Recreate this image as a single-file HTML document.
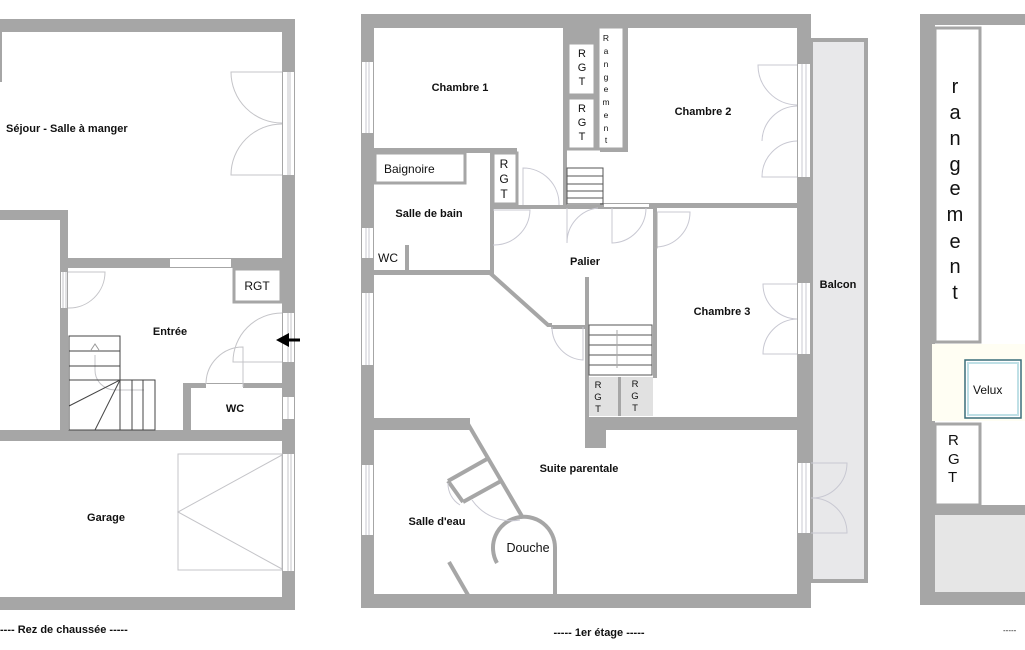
<!DOCTYPE html>
<html><head><meta charset="utf-8"><style>
html,body{margin:0;padding:0;background:#fff;width:1025px;height:650px;overflow:hidden}
svg{display:block}
text{font-family:"Liberation Sans",Arial,sans-serif;fill:#111}
.b{font-weight:bold;font-size:11px}
</style></head><body>
<svg width="1025" height="650" viewBox="0 0 1025 650" xmlns="http://www.w3.org/2000/svg">
<g fill="#a6a6a6">
<!-- LEFT PLAN -->
<rect x="0" y="19" width="295" height="13"/>
<rect x="282" y="19" width="13" height="591"/>
<rect x="0" y="210" width="68" height="10"/>
<rect x="60" y="210" width="8" height="231"/>
<rect x="60" y="258" width="235" height="10"/>
<rect x="183" y="383" width="8" height="50"/>
<rect x="183" y="383" width="112" height="5"/>
<rect x="0" y="430" width="295" height="11"/>
<rect x="0" y="597" width="295" height="13"/>
<rect x="0" y="32" width="2" height="50"/>
</g>
<g fill="#fff">
<rect x="170" y="259" width="61" height="8"/>
<rect x="283" y="72" width="11" height="103"/>
<rect x="283" y="313" width="11" height="49"/>
<rect x="283" y="397" width="11" height="22"/>
<rect x="283" y="454" width="11" height="117"/>
<rect x="61" y="272" width="6" height="36"/>
<rect x="206" y="384" width="37" height="4"/>
</g>
<g fill="none" stroke="#c4c4c8" stroke-width="1">
<line x1="288" y1="72" x2="288" y2="175"/><line x1="290" y1="72" x2="290" y2="175"/>
<path d="M282 72 H231 A51 51 0 0 0 282 123"/><path d="M282 175 H231 A51 51 0 0 1 282 124"/>
<line x1="288" y1="313" x2="288" y2="362"/><line x1="291" y1="313" x2="291" y2="362"/>
<path d="M282 313 A49 49 0 0 0 233 362 H282"/>
<path d="M243 387 V347 A37 37 0 0 0 206 384"/>
<line x1="288" y1="397" x2="288" y2="419"/>
<line x1="288" y1="454" x2="288" y2="571"/><line x1="291" y1="454" x2="291" y2="571"/>
<rect x="178" y="454" width="104" height="116"/>
<path d="M282 455 L178 512 L282 569"/>
<line x1="63" y1="272" x2="63" y2="308"/><line x1="66" y1="272" x2="66" y2="308"/>
<path d="M68 272 H105 A36 36 0 0 1 68 308"/>
<path d="M95 355 V370 A20 20 0 0 0 115 390 H144"/>
</g>
<path d="M300 340 H287" stroke="#000" stroke-width="3"/><path d="M276 340 L289 333 L289 347 Z" fill="#000"/>
<g fill="none" stroke="#444" stroke-width="1">
<rect x="69" y="336" width="51" height="94"/>
<line x1="69" y1="351" x2="120" y2="351"/><line x1="69" y1="366" x2="120" y2="366"/><line x1="69" y1="380" x2="155" y2="380"/>
<rect x="120" y="380" width="35" height="50"/>
<line x1="132" y1="380" x2="132" y2="430"/><line x1="143" y1="380" x2="143" y2="430"/>
<line x1="120" y1="380" x2="69" y2="406"/><line x1="120" y1="380" x2="95" y2="430"/>
</g>
<path d="M91 350 L95 344 L99 350" fill="none" stroke="#999"/>
<rect x="234" y="269" width="47" height="33" fill="#fff" stroke="#a6a6a6" stroke-width="3"/>
<text x="257" y="290" font-size="12" text-anchor="middle">RGT</text>
<text class="b" x="6" y="132">Séjour - Salle à manger</text>
<text class="b" x="170" y="335" text-anchor="middle">Entrée</text>
<text class="b" x="235" y="412" text-anchor="middle">WC</text>
<text class="b" x="106" y="521" text-anchor="middle">Garage</text>
<text class="b" x="0" y="633" font-size="9.5">----  Rez de chaussée  -----</text>

<!-- MIDDLE PLAN -->
<rect x="811" y="40" width="55" height="541" fill="#e8e8ea" stroke="#a6a6a6" stroke-width="4"/>
<g fill="#a6a6a6">
<rect x="361" y="14" width="450" height="14"/>
<rect x="361" y="14" width="13" height="594"/>
<rect x="797" y="14" width="14" height="594"/>
<rect x="361" y="594" width="450" height="14"/>
<rect x="374" y="148" width="143" height="5"/>
<rect x="490" y="148" width="4" height="127"/>
<rect x="374" y="270" width="120" height="5"/>
<rect x="405" y="245" width="4" height="28"/>
<rect x="490" y="205" width="167" height="4"/>
<rect x="563" y="28" width="4" height="180"/>
<rect x="563" y="28" width="37" height="15"/>
<rect x="624" y="28" width="4" height="124"/>
<rect x="600" y="149" width="28" height="3"/>
<rect x="600" y="203" width="197" height="5"/>
<rect x="653" y="208" width="4" height="170"/>
<rect x="585" y="277" width="4" height="170"/>
<rect x="585" y="417" width="21" height="31"/>
<rect x="585" y="417" width="212" height="13"/>
<rect x="374" y="418" width="96" height="12"/>
<rect x="551" y="325" width="35" height="4"/>
</g>
<g fill="#fff">
<rect x="362" y="62" width="11" height="71"/>
<rect x="362" y="228" width="11" height="30"/>
<rect x="362" y="293" width="11" height="72"/>
<rect x="362" y="465" width="11" height="70"/>
<rect x="798" y="64" width="12" height="113"/>
<rect x="798" y="283" width="12" height="71"/>
<rect x="798" y="463" width="12" height="70"/>
<rect x="604" y="204" width="45" height="3"/>
</g>
<g fill="none" stroke="#c8c8d2" stroke-width="1">
<line x1="366" y1="62" x2="366" y2="133"/><line x1="369" y1="62" x2="369" y2="133"/>
<line x1="366" y1="228" x2="366" y2="258"/><line x1="369" y1="228" x2="369" y2="258"/>
<line x1="366" y1="293" x2="366" y2="365"/><line x1="369" y1="293" x2="369" y2="365"/>
<line x1="366" y1="465" x2="366" y2="535"/><line x1="369" y1="465" x2="369" y2="535"/>
<line x1="802" y1="64" x2="802" y2="177"/><line x1="806" y1="64" x2="806" y2="177"/>
<line x1="802" y1="283" x2="802" y2="354"/><line x1="806" y1="283" x2="806" y2="354"/>
<line x1="802" y1="463" x2="802" y2="533"/><line x1="806" y1="463" x2="806" y2="533"/>
<path d="M797 65 H758 A40 40 0 0 0 797 105"/><path d="M797 106 A36 36 0 0 0 762 141 A36 36 0 0 1 797 106 M797 141 A36 36 0 0 0 762 177 H797"/>
<path d="M797 284 H763 A35 35 0 0 0 797 319"/><path d="M797 319 A35 35 0 0 0 763 354 H797"/>
<path d="M811 463 H847 A35 35 0 0 1 811 498"/><path d="M811 498 A35 35 0 0 1 847 533 H811"/>
<path d="M523 205 V168 A36 36 0 0 1 559 205"/>
<path d="M493 210 H530 A36 36 0 0 1 493 245"/>
<path d="M567 208 V243 A35 35 0 0 1 598 208"/>
<path d="M612 208 V243 A35 35 0 0 0 646 208"/>
<path d="M657 212 H690 A35 35 0 0 1 657 247"/>
<path d="M583 327 V360 A33 33 0 0 1 552 327"/>
</g>
<rect x="654" y="213" width="3" height="35" fill="none" stroke="#aaa" stroke-width="1"/>
<!-- RGT column -->
<rect x="568" y="43" width="27" height="52" fill="#fff" stroke="#a6a6a6" stroke-width="3"/>
<rect x="568" y="98" width="27" height="51" fill="#fff" stroke="#a6a6a6" stroke-width="3"/>
<rect x="598" y="27" width="26" height="122" fill="#fff" stroke="#a6a6a6" stroke-width="3"/>
<g font-size="11" text-anchor="middle"><text x="582" y="57">R</text><text x="582" y="71">G</text><text x="582" y="85">T</text>
<text x="582" y="112">R</text><text x="582" y="126">G</text><text x="582" y="140">T</text></g>
<g font-size="8.5" text-anchor="middle"><text x="606" y="41">R</text><text x="606" y="54">a</text><text x="606" y="67">n</text><text x="606" y="80">g</text><text x="606" y="92">e</text><text x="606" y="105">m</text><text x="606" y="118">e</text><text x="606" y="131">n</text><text x="606" y="143">t</text></g>
<rect x="375" y="153" width="90" height="30" fill="#fff" stroke="#a6a6a6" stroke-width="3"/>
<text x="384" y="173" font-size="12">Baignoire</text>
<rect x="493" y="153" width="24" height="51" fill="#fff" stroke="#a6a6a6" stroke-width="3"/>
<g font-size="12" text-anchor="middle"><text x="504" y="168">R</text><text x="504" y="183">G</text><text x="504" y="198">T</text></g>
<!-- small stair -->
<g fill="none" stroke="#555" stroke-width="1"><rect x="567" y="168" width="36" height="36"/>
<line x1="567" y1="176" x2="603" y2="176"/><line x1="567" y1="184" x2="603" y2="184"/><line x1="567" y1="191" x2="603" y2="191"/><line x1="567" y1="198" x2="603" y2="198"/></g>
<!-- central stair -->
<g fill="none" stroke="#555" stroke-width="1"><rect x="589" y="325" width="63" height="50"/>
<line x1="589" y1="335" x2="652" y2="335"/><line x1="589" y1="345" x2="652" y2="345"/><line x1="589" y1="355" x2="652" y2="355"/><line x1="589" y1="365" x2="652" y2="365"/></g>
<line x1="617" y1="330" x2="617" y2="368" stroke="#aaa"/>
<rect x="589" y="377" width="29" height="39" fill="#e1e1e1"/>
<rect x="621" y="377" width="32" height="39" fill="#e1e1e1"/>
<rect x="618" y="377" width="3" height="39" fill="#a6a6a6"/>
<g font-size="9.5" text-anchor="middle"><text x="598" y="388">R</text><text x="598" y="400">G</text><text x="598" y="412">T</text>
<text x="635" y="387">R</text><text x="635" y="399">G</text><text x="635" y="411">T</text></g>
<g stroke="#a6a6a6" fill="none">
<path d="M490 273 L548 325 L552 325" stroke-width="4"/>
<path d="M468 424 L523 518" stroke-width="4"/>
<path d="M448 481 L487 459 M463 502 L501 481 M448 481 L463 502" stroke-width="4"/>
<path d="M497 563 A31 31 0 1 1 555 548 V594" stroke-width="4"/>
<path d="M449 562 L468 595" stroke-width="4"/>
</g>
<g fill="none" stroke="#c8c8d2"><path d="M448 483 A25 25 0 0 0 460 505"/><path d="M472 500 A48 48 0 0 0 520 520"/></g>
<text class="b" x="460" y="91" text-anchor="middle">Chambre 1</text>
<text class="b" x="703" y="115" text-anchor="middle">Chambre 2</text>
<text class="b" x="722" y="315" text-anchor="middle">Chambre 3</text>
<text class="b" x="585" y="265" text-anchor="middle">Palier</text>
<text class="b" x="429" y="217" text-anchor="middle">Salle de bain</text>
<text x="378" y="262" font-size="12">WC</text>
<text class="b" x="838" y="288" text-anchor="middle">Balcon</text>
<text class="b" x="579" y="472" text-anchor="middle">Suite parentale</text>
<text class="b" x="437" y="525" text-anchor="middle">Salle d'eau</text>
<text x="528" y="552" font-size="12.5" text-anchor="middle">Douche</text>
<text class="b" x="599" y="636" font-size="9.5" text-anchor="middle">-----  1er étage  -----</text>

<!-- RIGHT PLAN -->
<rect x="920" y="14" width="105" height="591" fill="#a6a6a6"/>
<rect x="935" y="25" width="90" height="567" fill="#fff"/>
<rect x="935" y="515" width="90" height="77" fill="#e6e6e6"/>
<rect x="935" y="505" width="90" height="10" fill="#a6a6a6"/>
<rect x="932" y="344" width="93" height="77" fill="#fffef3"/>
<rect x="935" y="28" width="45" height="314" fill="#fff" stroke="#a6a6a6" stroke-width="3"/>
<rect x="935" y="424" width="45" height="81" fill="#fff" stroke="#a6a6a6" stroke-width="3"/>
<rect x="965" y="360" width="56" height="58" fill="#fff" stroke="#3a6e7a" stroke-width="1.5"/>
<rect x="968" y="363" width="50" height="52" fill="none" stroke="#bfe0e6" stroke-width="2"/>
<text x="973" y="394" font-size="12">Velux</text>
<g font-size="20" text-anchor="middle"><text x="955" y="93">r</text><text x="955" y="119">a</text><text x="955" y="145">n</text><text x="955" y="171">g</text><text x="955" y="195">e</text><text x="955" y="221">m</text><text x="955" y="248">e</text><text x="955" y="273">n</text><text x="955" y="299">t</text></g>
<g font-size="15"><text x="948" y="445">R</text><text x="948" y="464">G</text><text x="948" y="482">T</text></g>
<text x="1003" y="633" font-size="8" fill="#666">-----</text>
</svg>
</body></html>
